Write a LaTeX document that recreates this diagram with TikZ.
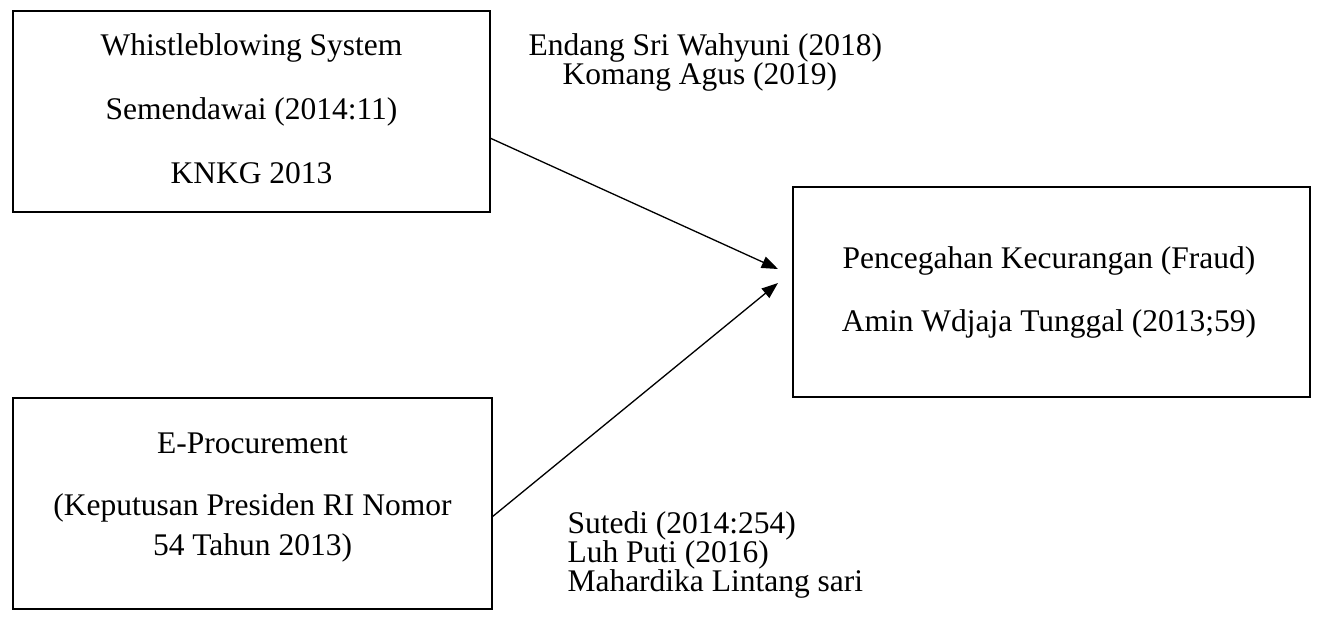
\documentclass[tikz,border=0pt]{standalone}
\usepackage{fontspec}
\setmainfont{Liberation Serif}
\usetikzlibrary{arrows.meta,fit}
\begin{document}
\begin{tikzpicture}
[x=0.381pt,y=-0.381pt,
  boxdecorate/.style={draw,line width=1.1pt,inner sep=0pt},%
  textdecorate/.style={anchor=base,inner sep=0pt,font=\fontsize{12}{14}\selectfont},%
  leftdecorate/.style={anchor=base west,inner sep=0pt,font=\fontsize{12}{14}\selectfont},%
  linedecorate/.style={line width=0.5pt,-{Triangle[length=6.2pt,width=4.6pt]}}]
\useasboundingbox (0,0) rectangle (1317,617);
%% boxes
\node (wbs) [boxdecorate,fit={(13,11) (490,212)}] {};
\node (fraud) [boxdecorate,fit={(793,187) (1310,397)}] {};
\node (eproc) [boxdecorate,fit={(13,398) (492,609)}] {};
%% texts inside the boxes
\foreach \nodename/\x/\y/\txt in {wbsa/251.5/55/Whistleblowing System,
  wbsb/251.5/119/Semendawai (2014:11), wbsc/251.5/183/KNKG 2013,
  frauda/1049/268/Pencegahan Kecurangan (Fraud),
  fraudb/1049/331/Amin Wdjaja Tunggal (2013;59),
  eproca/252.5/453/E-Procurement,
  eprocb/252.5/515/(Keputusan Presiden RI Nomor,
  eprocc/252.5/555/54 Tahun 2013)} {
  \node (\nodename) at (\x,\y) [textdecorate] {\txt};
}
%% references beside the arrows
\foreach \nodename/\x/\y/\txt in {endang/528/55/Endang Sri Wahyuni (2018),
  komang/562/84/Komang Agus (2019), sutedi/567/533/Sutedi (2014:254),
  luh/567/562/Luh Puti (2016), mahardika/567/591/Mahardika Lintang sari} {
  \node (\nodename) at (\x,\y) [leftdecorate] {\txt};
}
%% arrows
\coordinate (wbsout) at (490,138);
\coordinate (eprocout) at (492,517);
\coordinate (fraudin1) at (778,269);
\coordinate (fraudin2) at (778,283);
\path (wbsout) edge[linedecorate] (fraudin1)
  (eprocout) edge[linedecorate] (fraudin2);
\end{tikzpicture}
\end{document}
